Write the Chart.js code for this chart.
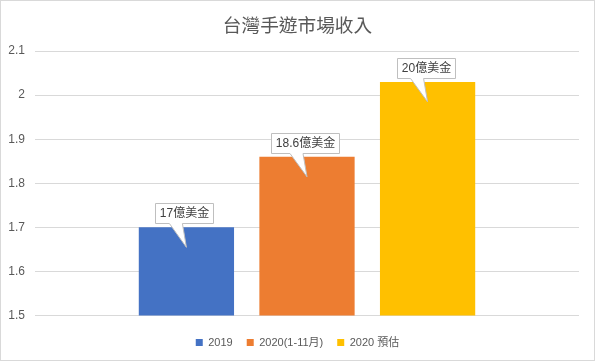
<!DOCTYPE html>
<html>
<head>
<meta charset="utf-8">
<script src="https://cdn.jsdelivr.net/npm/chart.js@4.4.1/dist/chart.umd.min.js"></script>
<style>
html,body{margin:0;padding:0;background:#fff;}
#wrap{width:595px;height:361px;position:relative;}
</style>
</head>
<body>
<div id="wrap"><canvas id="c" width="595" height="361"></canvas></div>
<script>
const chartTitle = '台灣手遊市場收入';
const categories = [''];
const seriesNames = ['2019', '2020(1-11月)', '2020 預估'];
const seriesValues = [1.70, 1.86, 2.03];
const seriesColors = ['#4472C4', '#ED7D31', '#FFC000'];
const calloutLabels = ['17億美金', '18.6億美金', '20億美金'];
const yTickMin = 1.5, yTickMax = 2.1, yTickStep = 0.1;

const FONT = '"Liberation Sans", "Noto Sans CJK TC", sans-serif';

const datasets = seriesNames.map((name, i) => ({
  label: name,
  data: [seriesValues[i]],
  backgroundColor: seriesColors[i],
  borderWidth: 0,
  categoryPercentage: 0.665,
  barPercentage: 0.79
}));

const frame = {
  id: 'frame',
  beforeDraw(chart) {
    const ctx = chart.ctx;
    ctx.save();
    ctx.fillStyle = '#fff';
    ctx.fillRect(0, 0, chart.width, chart.height);
    ctx.restore();
  },
  afterDraw(chart) {
    const ctx = chart.ctx;
    ctx.save();
    ctx.strokeStyle = '#d9d9d9';
    ctx.lineWidth = 1;
    ctx.strokeRect(0.5, 0.5, chart.width - 1, chart.height - 1);
    ctx.restore();
  }
};

const callouts = {
  id: 'callouts',
  afterDatasetsDraw(chart) {
    const ctx = chart.ctx;
    ctx.save();
    ctx.font = '12px ' + FONT;
    ctx.textBaseline = 'middle';
    ctx.textAlign = 'center';
    chart.data.datasets.forEach((ds, i) => {
      const el = chart.getDatasetMeta(i).data[0];
      if (!el) return;
      const cx = el.x, top = el.y;
      const text = calloutLabels[i];
      const tw = ctx.measureText(text).width;
      const w = Math.round(tw + 9);
      const h = 20;
      const bx = Math.round(cx - 2 - w / 2) + 0.5;
      const by = Math.round(top - 24) + 0.5;
      const baseL = cx - 17, baseR = cx - 4;
      const tipX = cx, tipY = top + 20;
      ctx.beginPath();
      ctx.moveTo(bx, by);
      ctx.lineTo(bx + w, by);
      ctx.lineTo(bx + w, by + h);
      ctx.lineTo(baseR, by + h);
      ctx.lineTo(tipX, tipY);
      ctx.lineTo(baseL, by + h);
      ctx.lineTo(bx, by + h);
      ctx.closePath();
      ctx.fillStyle = '#ffffff';
      ctx.fill();
      ctx.strokeStyle = '#bfbfbf';
      ctx.lineWidth = 1;
      ctx.stroke();
      ctx.fillStyle = '#404040';
      ctx.fillText(text, bx + w / 2, by + h / 2 + 0.5);
    });
    ctx.restore();
  }
};

new Chart(document.getElementById('c'), {
  type: 'bar',
  data: { labels: categories, datasets: datasets },
  options: {
    responsive: false,
    animation: false,
    devicePixelRatio: 1,
    layout: { padding: { left: 0, right: 0, top: 0, bottom: 3 } },
    plugins: {
      title: {
        display: true,
        text: chartTitle,
        color: '#595959',
        font: { family: '"Noto Sans CJK TC", sans-serif', size: 18.7, weight: 'normal', lineHeight: 1.2 },
        padding: { top: 13.8, bottom: 14.8 }
      },
      legend: {
        position: 'bottom',
        labels: {
          boxWidth: 7,
          boxHeight: 7,
          padding: 14,
          color: '#595959',
          font: { family: FONT, size: 11 }
        }
      },
      tooltip: { enabled: false }
    },
    scales: {
      x: {
        grid: { display: false },
        border: { display: false },
        ticks: { display: false },
        afterFit(scale) { scale.height = 7.5; }
      },
      y: {
        min: yTickMin,
        max: yTickMax,
        grid: { color: '#d9d9d9', drawTicks: false, lineWidth: 1 },
        border: { display: false },
        ticks: {
          stepSize: yTickStep,
          padding: 10,
          color: '#595959',
          font: { family: FONT, size: 12 },
          callback: v => String(Number(v.toFixed(1)))
        },
        afterFit(scale) { scale.width = 35; }
      },
      yRight: {
        position: 'right',
        display: true,
        grid: { display: false },
        border: { display: false },
        ticks: { display: false },
        afterFit(scale) { scale.width = 16; }
      }
    }
  },
  plugins: [frame, callouts]
});
</script>
</body>
</html>
